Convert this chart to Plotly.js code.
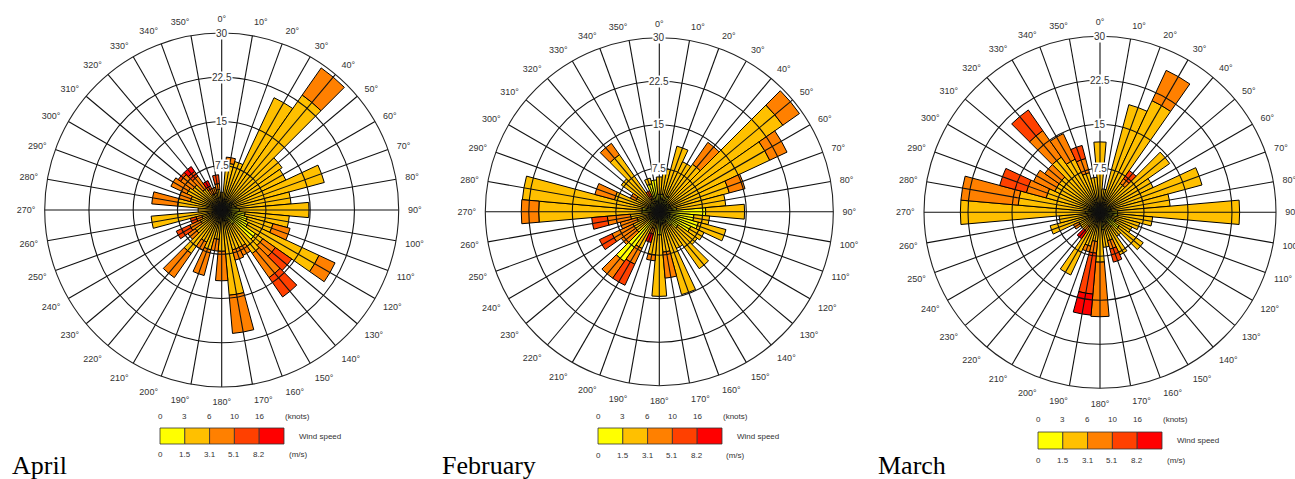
<!DOCTYPE html>
<html><head><meta charset="utf-8">
<script src="https://cdn.plot.ly/plotly-3.0.1.min.js"></script>
<style>html,body{margin:0;padding:0;background:#fff}#chart{width:1295px;height:479px}</style>
</head><body><div id="chart"></div>
<script>
// ---- data ----
const directions = [0,10,20,30,40,50,60,70,80,90,100,110,120,130,140,150,160,170,180,190,200,210,220,230,240,250,260,270,280,290,300,310,320,330,340,350];
const speedClasses = ['0-1.5 m/s','1.5-3.1 m/s','3.1-5.1 m/s','5.1-8.2 m/s','>8.2 m/s'];
const speedColors = ['#FFFF00','#FFC000','#FF8000','#FF4000','#FF0000'];
const knotsTicks = ['0','3','6','10','16'];
const msTicks = ['0','1.5','3.1','5.1','8.2'];
const radialTicks = [7.5,15,22.5,30];
const months = ['April','February','March'];

const aprilYellow    = [0.5,1,1.5,1.5,1.5,2,2,1.5,2.5,3,4,4.5,5,7,3,2,2,1.5,1,1,1,1,1,1,1,1,1.5,1,1,1,1,1,0.5,0.5,0.5,0.5];
const aprilGold      = [2.5,7,7,19.5,22.3,10.5,10,16.5,9.3,11.8,7.5,4.5,13.2,1.5,6,5,5,13,6,4,6,5,8,4.5,3,2.5,10.5,3,6.5,4.5,5.5,5,4,2.5,2.5,3];
const aprilOrange    = [0,1,0,0,5.6,0,0,0,0,0,0,3,3,2.6,5,1.5,1.8,6.5,5,2,4.5,1.5,5,1.5,2,1,0,0,4.4,2,3,2.5,2.5,1,1,1];
const aprilRedOrange = [0,0,0,0,0,0,0,0,0,0,0,0,0,3.4,4,0,0,0,0,0,0,0,0,0,2.5,1,0,0,0,0,0,0.5,1,0.5,0,1.5];
const aprilRed       = [0,0,0,0,0,0,0,0,0,0,0,0,0,0,0,0,0,0,0,0,0,0,0,0,0,0,0,0,0,0,0,0,1,1,0,0];

const febYellow    = [3,3,2,3,2,2,2,2,3,8,6,7,6,4,3,2,2,2,4,2,1,1,10.5,2,1,1,1,3,3,2,1.5,2,2,1,5,5.5];
const febGold      = [3,4.5,9.7,6.5,8,24,19,10.5,8.5,6.7,2.7,4.9,2.5,4,9,5,12.8,5,10.6,5.5,2,6,0,3,4,3,4,17.8,20.7,6,3,6,10,1.5,1,0];
const febOrange    = [0,0,0,0,4.6,3.5,3.3,2.8,0,0,0,0,0,0,0,0,0,4.5,0,1,1,3,3.5,3,4,3,4,3,0,3.5,1,0,2.4,0.5,0,0];
const febRedOrange = [0,0,0,0,0,0,0,0,0,0,0,0,0,0,0,0,0,0,0,0,0,4,0,0,2.4,0,2.7,0,0,0,0,0,0,1,0,0];
const febRed       = [0,0,0,0,0,0,0,0,0,0,0,0,0,0,0,0,0,0,0,0,1.5,0,0,0,0,0,0,0,0,0,0,0,0,0,0,0];

const marYellow    = [1,1,1,1.5,1,1.5,2,2,2,3,3,2,3,4,3,2,1,3,1,1,1,1,1,1,1,1,1,2.5,2,1.5,1.5,1.5,1.5,1,1,1];
const marGold      = [11,3,18,19.5,5,13,8,16,10,20.8,6,5,3,5,2,6,4,3,7.5,4,5,10.8,2,3,3,7.8,6,21.3,12,8,7,7,10,9,6,5];
const marOrange    = [0,0,0,5.7,1,0,0,0,0,0,0,0,0,0,0,0,1.5,0,9.3,2,1,0,1,0,1,0,0,0,9.8,3.5,4,3,5.5,4.8,2.5,0];
const marRedOrange = [0,0,0,0,1.7,0,0,0,0,0,0,0,0,0,0,0,2.3,0,0,7,0,0,0,0,0,0,0,0,0,4.7,0,0,4.3,0,2.3,0];
const marRed       = [0,0,0,0,0,0,0,0,0,0,0,0,0,0,0,0,0,0,0,3.6,0,0,1.5,0,0,0,0,0,0,0,0,0,0,0,0,0];

// ---- layout geometry (pixels) ----
const W = 1295, H = 479;
const px = x => x / W, py = y => 1 - y / H;
const charts = [
  {series:[aprilYellow,aprilGold,aprilOrange,aprilRedOrange,aprilRed], cx:221.7, cy:210, r:177,
   leg:{x:160, y:428, h:16, ky:416, my:454}, labelX:10},
  {series:[febYellow,febGold,febOrange,febRedOrange,febRed], cx:659.3, cy:211.7, r:174,
   leg:{x:598, y:428, h:16, ky:416, my:455}, labelX:440},
  {series:[marYellow,marGold,marOrange,marRedOrange,marRed], cx:1100, cy:212.3, r:176,
   leg:{x:1038, y:432, h:17, ky:419, my:460}, labelX:876}
];
const boxW = 24.8;
const font = 'Liberation Sans, Arial, sans-serif';

const data = [];
const layout = {
  width: W, height: H, margin:{l:0,r:0,t:0,b:0},
  paper_bgcolor:'#fff', showlegend:false,
  shapes:[], annotations:[]
};

charts.forEach((c, i) => {
  const base = 'polar' + (i === 0 ? '' : (i + 1));
  const over = 'polar' + (i + 4);
  const domain = {x:[px(c.cx - c.r), px(c.cx + c.r)], y:[py(c.cy + c.r), py(c.cy - c.r)]};
  c.series.forEach((vals, k) => {
    data.push({
      type:'barpolar', r: vals, theta: directions, width: 10,
      name: speedClasses[k], subplot: base,
      marker:{color: speedColors[k], line:{color:'#000', width:1}},
      hoverinfo:'skip'
    });
  });
  data.push({type:'scatterpolar', r:[0], theta:[0], mode:'markers', marker:{opacity:0},
             subplot: over, hoverinfo:'skip'});
  layout[base] = {
    domain, bgcolor:'#fff', barmode:'stack',
    angularaxis:{rotation:90, direction:'clockwise', thetaunit:'degrees', tick0:0, dtick:10,
      ticksuffix:'°', showgrid:false, showline:false, ticks:'outside', ticklen:7,
      tickcolor:'rgba(0,0,0,0)', tickfont:{family:font, size:9, color:'#333'}},
    radialaxis:{range:[0,30], autorange:false, showgrid:false, showline:false,
      showticklabels:false, ticks:''}
  };
  layout[over] = {
    domain, bgcolor:'rgba(0,0,0,0)',
    angularaxis:{rotation:90, direction:'clockwise', thetaunit:'degrees', tick0:0, dtick:10,
      showticklabels:false, ticks:'', showgrid:true, gridcolor:'#111', gridwidth:1.1,
      showline:true, linecolor:'#222', linewidth:1.1},
    radialaxis:{range:[0,30], autorange:false, tickvals:radialTicks, showticklabels:false,
      ticks:'', showline:false, showgrid:true, gridcolor:'#111', gridwidth:1.1}
  };
  // radial tick labels on white background
  radialTicks.forEach(v => {
    layout.annotations.push({xref:'paper', yref:'paper', x:px(c.cx), y:py(c.cy - c.r * v / 30),
      text:String(v), showarrow:false, xanchor:'center', yanchor:'middle',
      bgcolor:'#fff', borderpad:0, font:{family:font, size:10, color:'#333'}});
  });
  // legend colour bar
  const L = c.leg;
  speedColors.forEach((col, k) => {
    layout.shapes.push({type:'rect', xref:'paper', yref:'paper',
      x0:px(L.x + k * boxW), x1:px(L.x + (k + 1) * boxW), y0:py(L.y + L.h), y1:py(L.y),
      fillcolor:col, line:{color:'#333', width:0.8}});
    layout.annotations.push({xref:'paper', yref:'paper', x:px(L.x + k * boxW), y:py(L.ky),
      text:knotsTicks[k], showarrow:false, xanchor:'center', yanchor:'middle',
      font:{family:font, size:8, color:'#333'}});
    layout.annotations.push({xref:'paper', yref:'paper', x:px(L.x + k * boxW), y:py(L.my),
      text:msTicks[k], showarrow:false, xanchor:'center', yanchor:'middle',
      font:{family:font, size:8, color:'#333'}});
  });
  const R = L.x + 5 * boxW;
  layout.annotations.push({xref:'paper', yref:'paper', x:px(R + 13), y:py(L.ky), text:'(knots)',
    showarrow:false, xanchor:'center', yanchor:'middle', font:{family:font, size:8, color:'#333'}});
  layout.annotations.push({xref:'paper', yref:'paper', x:px(R + 14), y:py(L.my), text:'(m/s)',
    showarrow:false, xanchor:'center', yanchor:'middle', font:{family:font, size:8, color:'#333'}});
  layout.annotations.push({xref:'paper', yref:'paper', x:px(R + 13), y:py(L.y + L.h / 2), text:'Wind speed',
    showarrow:false, xanchor:'left', yanchor:'middle', font:{family:font, size:8, color:'#333'}});
  // month label
  layout.annotations.push({xref:'paper', yref:'paper', x:px(c.labelX), y:py(465), text:months[i],
    showarrow:false, xanchor:'left', yanchor:'middle',
    font:{family:'Liberation Serif, Times New Roman, serif', size:26, color:'#000'}});
});

Plotly.newPlot('chart', data, layout, {staticPlot:true, displayModeBar:false});
</script>
</body></html>
